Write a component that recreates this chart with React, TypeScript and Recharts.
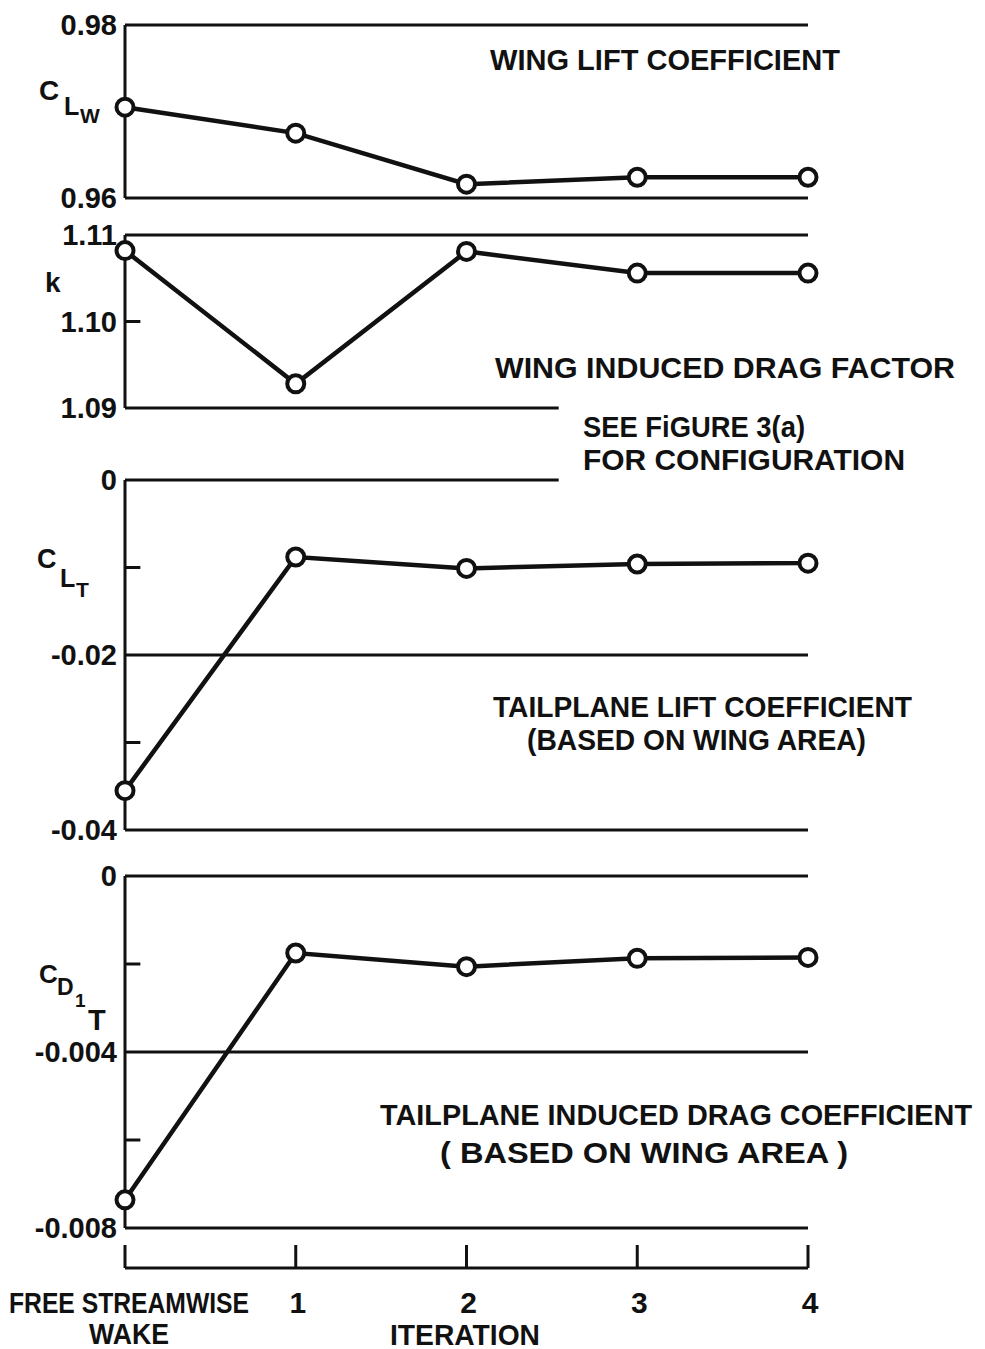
import React from 'react';
import { LineChart, Line, XAxis, YAxis, ReferenceLine } from 'recharts';

// iteration index, 0 = free streamwise wake
const iterations = [0, 1, 2, 3, 4];
const xTickLabels = ['FREE STREAMWISE\nWAKE', '1', '2', '3', '4'];

// values
const wingLift = [0.9705, 0.9675, 0.9616, 0.9624, 0.9624];
const dragFactor = [1.1082, 1.0928, 1.1081, 1.1056, 1.1056];
const tailLift = [-0.0355, -0.0088, -0.0101, -0.0096, -0.0095];
const tailDrag = [-0.00736, -0.00175, -0.00206, -0.00187, -0.00185];

const clwTicks = [0.96, 0.98];
const kTicks = [1.09, 1.1, 1.11];
const cltTicks = [-0.04, -0.02, 0];
const cdtTicks = [-0.008, -0.004, 0];

const FONT = '"Liberation Sans", Arial, sans-serif';
const INK = '#111';

type Rule = { y: number; to?: number };

type PanelProps = {
  top: number;
  height: number;
  values: number[];
  domain: [number, number];
  ticks: number[];
  fmt: (v: number) => string;
  rules: Rule[];
  minor: number[];
};

function Panel({ top, height, values, domain, ticks, fmt, rules, minor }: PanelProps) {
  const data = iterations.map((x, i) => ({ x, v: values[i] }));
  const pad = 20;
  return (
    <div style={{ position: 'absolute', left: 0, top: top - pad }}>
      <LineChart
        width={985}
        height={height + pad * 2}
        data={data}
        margin={{ top: pad, right: 177, bottom: pad, left: 0 }}
      >
        <XAxis dataKey="x" type="number" domain={[0, 4]} hide />
        <YAxis
          width={125}
          domain={domain}
          ticks={ticks}
          interval={0}
          tickFormatter={fmt}
          tickLine={false}
          axisLine={{ stroke: INK, strokeWidth: 3 }}
          tick={{ fill: INK, fontSize: 29, fontWeight: 700, fontFamily: FONT }}
        />
        {rules.map((r) =>
          r.to === undefined ? (
            <ReferenceLine key={'r' + r.y} y={r.y} stroke={INK} strokeWidth={3} />
          ) : (
            <ReferenceLine
              key={'r' + r.y}
              segment={[{ x: 0, y: r.y }, { x: r.to, y: r.y }]}
              stroke={INK}
              strokeWidth={3}
            />
          )
        )}
        {minor.map((m) => (
          <ReferenceLine
            key={'m' + m}
            segment={[{ x: 0, y: m }, { x: 0.09, y: m }]}
            stroke={INK}
            strokeWidth={3}
          />
        ))}
        <Line
          dataKey="v"
          stroke={INK}
          strokeWidth={4.5}
          dot={{ r: 8.5, stroke: INK, strokeWidth: 4, fill: '#fff' }}
          isAnimationActive={false}
        />
      </LineChart>
    </div>
  );
}

// tick mark drawn upward from the axis line, label(s) below it
function XTick(props: any) {
  const { x, y, payload } = props;
  const lines = xTickLabels[payload.value].split('\n');
  const wide = lines.length > 1;
  return (
    <g>
      <line x1={x} y1={y} x2={x} y2={y - 23} stroke={INK} strokeWidth={3} />
      {lines.map((l, i) => (
        <text
          key={i}
          x={wide ? x + 4 : x + 2}
          y={y + 45 + i * 31}
          textAnchor="middle"
          fill={INK}
          fontSize={30}
          fontWeight={700}
          fontFamily={FONT}
          textLength={wide ? (i === 0 ? 240 : 80) : undefined}
          lengthAdjust="spacingAndGlyphs"
        >
          {l}
        </text>
      ))}
    </g>
  );
}

function IterationAxis() {
  const data = iterations.map((x) => ({ x }));
  return (
    <div style={{ position: 'absolute', left: 0, top: 1236 }}>
      <LineChart width={985} height={113} data={data} margin={{ top: 7, right: 177, bottom: 0, left: 125 }}>
        <XAxis
          dataKey="x"
          type="number"
          domain={[0, 4]}
          ticks={iterations}
          interval={0}
          height={81}
          tickSize={0}
          tickMargin={0}
          tickLine={false}
          axisLine={{ stroke: INK, strokeWidth: 3 }}
          tick={<XTick />}
        />
        <YAxis domain={[0, 1]} hide />
      </LineChart>
    </div>
  );
}

function Caption({ x, y, w, children }: { x: number; y: number; w: number; children: string }) {
  return (
    <text
      x={x}
      y={y}
      fill={INK}
      fontSize={30}
      fontWeight={700}
      fontFamily={FONT}
      textLength={w}
      lengthAdjust="spacingAndGlyphs"
    >
      {children}
    </text>
  );
}

export default function App() {
  const two = (v: number) => v.toFixed(2);
  const zeroOr = (d: number) => (v: number) => (v === 0 ? '0' : v.toFixed(d));
  return (
    <div style={{ position: 'absolute', left: 0, top: 0, width: 985, height: 1349, background: '#fff' }}>
      <Panel
        top={25}
        height={173}
        values={wingLift}
        domain={[0.96, 0.98]}
        ticks={clwTicks}
        fmt={two}
        rules={[{ y: 0.98 }, { y: 0.96 }]}
        minor={[]}
      />
      <Panel
        top={235}
        height={173}
        values={dragFactor}
        domain={[1.09, 1.11]}
        ticks={kTicks}
        fmt={two}
        rules={[{ y: 1.11 }, { y: 1.09, to: 2.54 }]}
        minor={[1.1]}
      />
      <Panel
        top={480}
        height={350}
        values={tailLift}
        domain={[-0.04, 0]}
        ticks={cltTicks}
        fmt={zeroOr(2)}
        rules={[{ y: 0, to: 2.54 }, { y: -0.02 }, { y: -0.04 }]}
        minor={[-0.01, -0.03]}
      />
      <Panel
        top={876}
        height={352}
        values={tailDrag}
        domain={[-0.008, 0]}
        ticks={cdtTicks}
        fmt={zeroOr(3)}
        rules={[{ y: 0 }, { y: -0.004 }, { y: -0.008 }]}
        minor={[-0.002, -0.006]}
      />
      <IterationAxis />
      <svg
        width={985}
        height={1349}
        style={{ position: 'absolute', left: 0, top: 0, pointerEvents: 'none' }}
      >
        <Caption x={490} y={70} w={350}>WING LIFT COEFFICIENT</Caption>
        <Caption x={495} y={378} w={460}>WING INDUCED DRAG FACTOR</Caption>
        <Caption x={583} y={437} w={222}>SEE FiGURE 3(a)</Caption>
        <Caption x={583} y={470} w={322}>FOR CONFIGURATION</Caption>
        <Caption x={493} y={717} w={419}>TAILPLANE LIFT COEFFICIENT</Caption>
        <Caption x={527} y={750} w={339}>(BASED ON WING AREA)</Caption>
        <Caption x={380} y={1125} w={592}>TAILPLANE INDUCED DRAG COEFFICIENT</Caption>
        <Caption x={440} y={1163} w={408}>( BASED ON WING AREA )</Caption>
        <Caption x={390} y={1345} w={150}>ITERATION</Caption>

        <g fill={INK} fontWeight={700} fontFamily={FONT}>
          <text x={39} y={100} fontSize={28}>C</text>
          <text x={64} y={115} fontSize={25}>L</text>
          <text x={80} y={123} fontSize={21}>W</text>

          <text x={45} y={292} fontSize={28}>k</text>

          <text x={37} y={568} fontSize={27}>C</text>
          <text x={60} y={587} fontSize={25}>L</text>
          <text x={76} y={597} fontSize={21}>T</text>

          <text x={39} y={983} fontSize={26}>C</text>
          <text x={57} y={995} fontSize={23}>D</text>
          <text x={75} y={1007} fontSize={19}>1</text>
          <text x={88} y={1030} fontSize={29}>T</text>
        </g>
      </svg>
    </div>
  );
}
